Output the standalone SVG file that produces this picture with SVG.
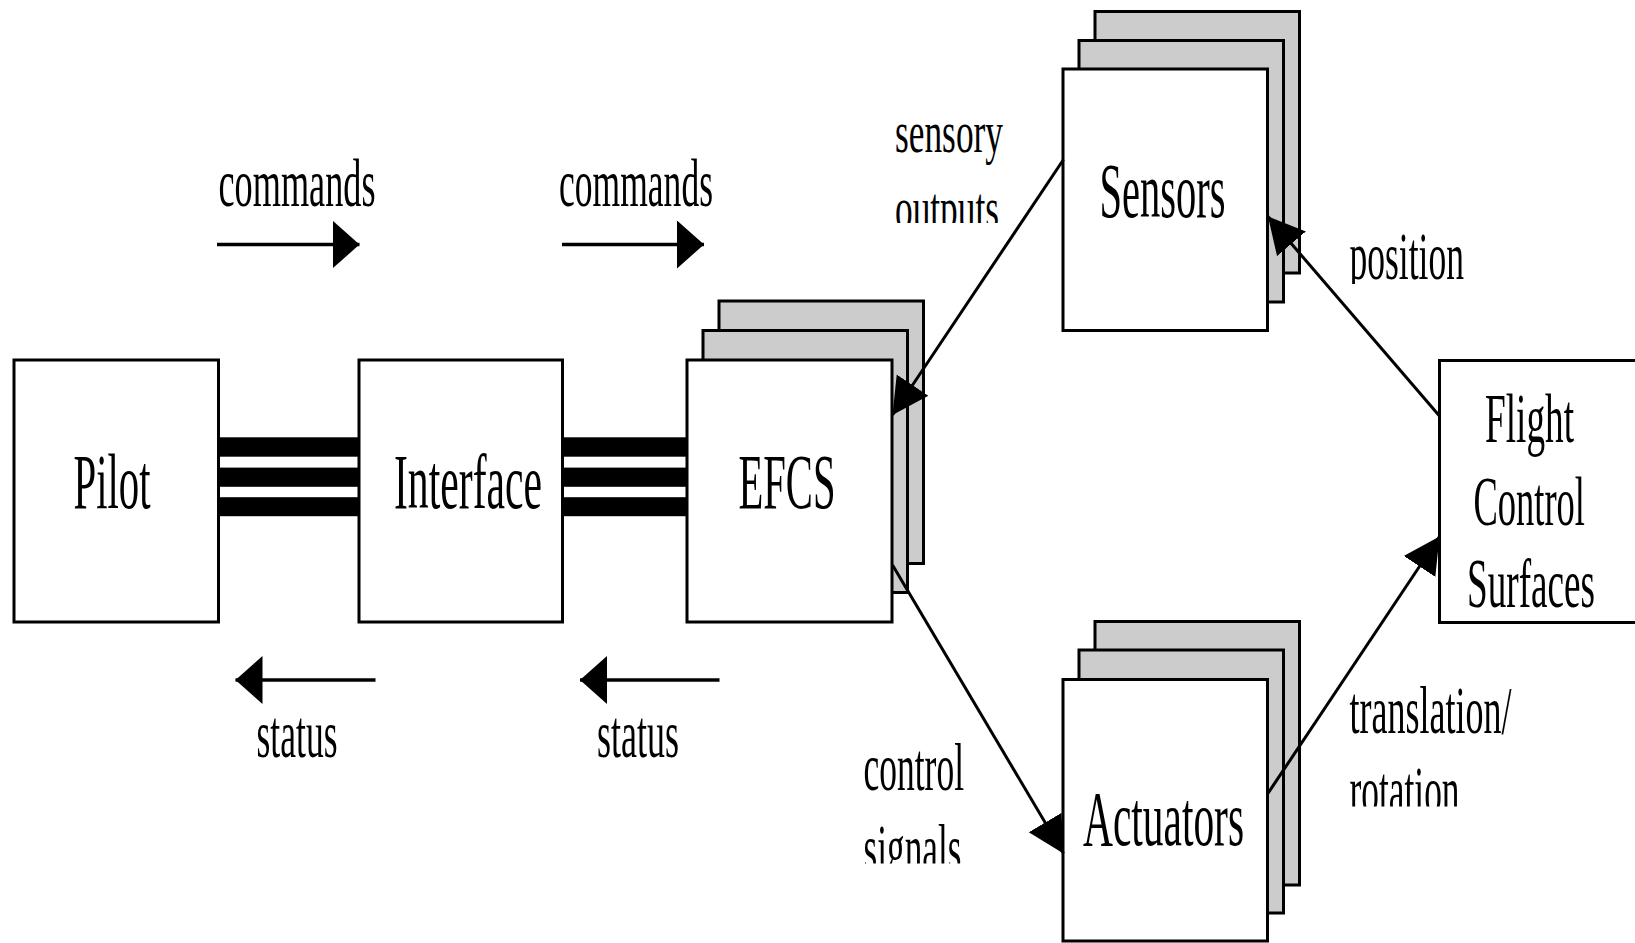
<svg xmlns="http://www.w3.org/2000/svg" width="1635" height="943" viewBox="0 0 1635 943">
  <defs>
    <style>
      .box { fill: #ffffff; stroke: #000000; stroke-width: 3; }
      .stack { fill: #cccccc; stroke: #000000; stroke-width: 3; }
      .txt { font-family: "Liberation Serif", "Times New Roman", serif; fill: #000000; }
      .big { font-size: 78px; }
      .mid { font-size: 70px; }
      .edge { font-size: 68px; }
      .small { font-size: 60px; }
      .wire { stroke: #000000; stroke-width: 3; fill: none; }
      .flow { stroke: #000000; stroke-width: 3.5; fill: none; }
      .bus { fill: #000000; }
    </style>
    <!-- wide flat head for the command/status flow arrows -->
    <marker id="headFlow" markerUnits="userSpaceOnUse" markerWidth="28" markerHeight="48" refX="27" refY="24" orient="auto">
      <path d="M0,0 L27,24 L0,48 Z" fill="#000"/>
    </marker>
    <!-- longer head for the signal connectors -->
    <marker id="headSig" markerUnits="userSpaceOnUse" markerWidth="37" markerHeight="40" refX="36" refY="20" orient="auto">
      <path d="M0,1 L36,20 L0,39 Z" fill="#000"/>
    </marker>
    <!-- label boxes that cut off the lower line of two-line labels -->
    <clipPath id="clipOutputs"><rect x="850" y="160" width="200" height="63"/></clipPath>
    <clipPath id="clipSignals"><rect x="850" y="800" width="200" height="63.5"/></clipPath>
    <clipPath id="clipRotation"><rect x="1330" y="740" width="250" height="66.5"/></clipPath>
    <clipPath id="clipPosition"><rect x="1330" y="200" width="200" height="84"/></clipPath>
  </defs>

  <rect width="1635" height="943" fill="#ffffff"/>

  <g id="pilot">
    <rect class="box" x="14" y="360" width="204.5" height="262"/>
    <text class="txt big" x="73.5" y="508" textLength="77" lengthAdjust="spacingAndGlyphs">Pilot</text>
  </g>

  <g id="interface">
    <rect class="box" x="359" y="360" width="203.5" height="262"/>
    <text class="txt big" x="394" y="508" textLength="148" lengthAdjust="spacingAndGlyphs">Interface</text>
  </g>

  <g id="efcs">
    <rect class="stack" x="719" y="301" width="204.5" height="262.5"/>
    <rect class="stack" x="703" y="330.5" width="204.5" height="262"/>
    <rect class="box" x="687" y="360" width="205" height="262"/>
    <text class="txt big" x="738.5" y="508" textLength="97" lengthAdjust="spacingAndGlyphs">EFCS</text>
  </g>

  <g id="sensors">
    <rect class="stack" x="1095" y="11.5" width="204.5" height="261.5"/>
    <rect class="stack" x="1079" y="40.5" width="204.5" height="261.5"/>
    <rect class="box" x="1063" y="69" width="204.5" height="261.5"/>
    <text class="txt big" x="1099.5" y="216.5" textLength="126" lengthAdjust="spacingAndGlyphs">Sensors</text>
  </g>

  <g id="actuators">
    <rect class="stack" x="1095" y="621.5" width="204.5" height="263.5"/>
    <rect class="stack" x="1079" y="650" width="204.5" height="263"/>
    <rect class="box" x="1063" y="679.5" width="204.5" height="261.5"/>
    <text class="txt big" x="1083" y="845" textLength="161" lengthAdjust="spacingAndGlyphs">Actuators</text>
  </g>

  <g id="fcs">
    <rect class="box" x="1439.5" y="360.5" width="250" height="262"/>
    <text class="txt mid" x="1485" y="441.5" textLength="89" lengthAdjust="spacingAndGlyphs">Flight</text>
    <text class="txt mid" x="1473.5" y="525" textLength="111.5" lengthAdjust="spacingAndGlyphs">Control</text>
    <text class="txt mid" x="1467" y="606.5" textLength="128" lengthAdjust="spacingAndGlyphs">Surfaces</text>
  </g>

  <g id="connectors">
    <!-- three-line buses between pilot, interface and EFCS -->
    <rect class="bus" x="218.5" y="437.3" width="140.5" height="19.4"/>
    <rect class="bus" x="218.5" y="467.6" width="140.5" height="19.2"/>
    <rect class="bus" x="218.5" y="497.2" width="140.5" height="19"/>
    <rect class="bus" x="562.5" y="437.3" width="124.5" height="19.4"/>
    <rect class="bus" x="562.5" y="467.6" width="124.5" height="19.2"/>
    <rect class="bus" x="562.5" y="497.2" width="124.5" height="19"/>

    <!-- command / status flow arrows -->
    <line class="flow" x1="217" y1="244.5" x2="359.5" y2="244.5" marker-end="url(#headFlow)"/>
    <line class="flow" x1="562" y1="244.5" x2="704" y2="244.5" marker-end="url(#headFlow)"/>
    <line class="flow" x1="375.5" y1="680" x2="235.5" y2="680" marker-end="url(#headFlow)"/>
    <line class="flow" x1="719.5" y1="680" x2="580" y2="680" marker-end="url(#headFlow)"/>

    <!-- signal connectors around the control loop -->
    <line class="wire" x1="1063.5" y1="159.5" x2="892.5" y2="415" marker-end="url(#headSig)"/>
    <line class="wire" x1="892.5" y1="565" x2="1063.5" y2="853.5" marker-end="url(#headSig)"/>
    <line class="wire" x1="1267.5" y1="794" x2="1439.5" y2="536.5" marker-end="url(#headSig)"/>
    <line class="wire" x1="1439.5" y1="416" x2="1268" y2="216.5" marker-end="url(#headSig)"/>

    <!-- connector labels -->
    <text class="txt edge" x="218.5" y="206" textLength="157" lengthAdjust="spacingAndGlyphs">commands</text>
    <text class="txt edge" x="559" y="206" textLength="154" lengthAdjust="spacingAndGlyphs">commands</text>
    <text class="txt edge" x="256.5" y="757" textLength="81" lengthAdjust="spacingAndGlyphs">status</text>
    <text class="txt edge" x="597" y="757" textLength="82" lengthAdjust="spacingAndGlyphs">status</text>

    <text class="txt small" x="895" y="151.5" textLength="108" lengthAdjust="spacingAndGlyphs">sensory</text>
    <text class="txt small" x="895" y="228" textLength="104" lengthAdjust="spacingAndGlyphs" clip-path="url(#clipOutputs)">outputs</text>

    <text class="txt edge" x="863.5" y="790" textLength="100.5" lengthAdjust="spacingAndGlyphs">control</text>
    <text class="txt edge" x="863.5" y="871" textLength="98" lengthAdjust="spacingAndGlyphs" clip-path="url(#clipSignals)">signals</text>

    <text class="txt edge" x="1349.5" y="279" textLength="114.5" lengthAdjust="spacingAndGlyphs" clip-path="url(#clipPosition)">position</text>

    <text class="txt edge" x="1349.5" y="732.5" textLength="162" lengthAdjust="spacingAndGlyphs">translation/</text>
    <text class="txt edge" x="1349.5" y="813" textLength="110" lengthAdjust="spacingAndGlyphs" clip-path="url(#clipRotation)">rotation</text>
  </g>
</svg>
